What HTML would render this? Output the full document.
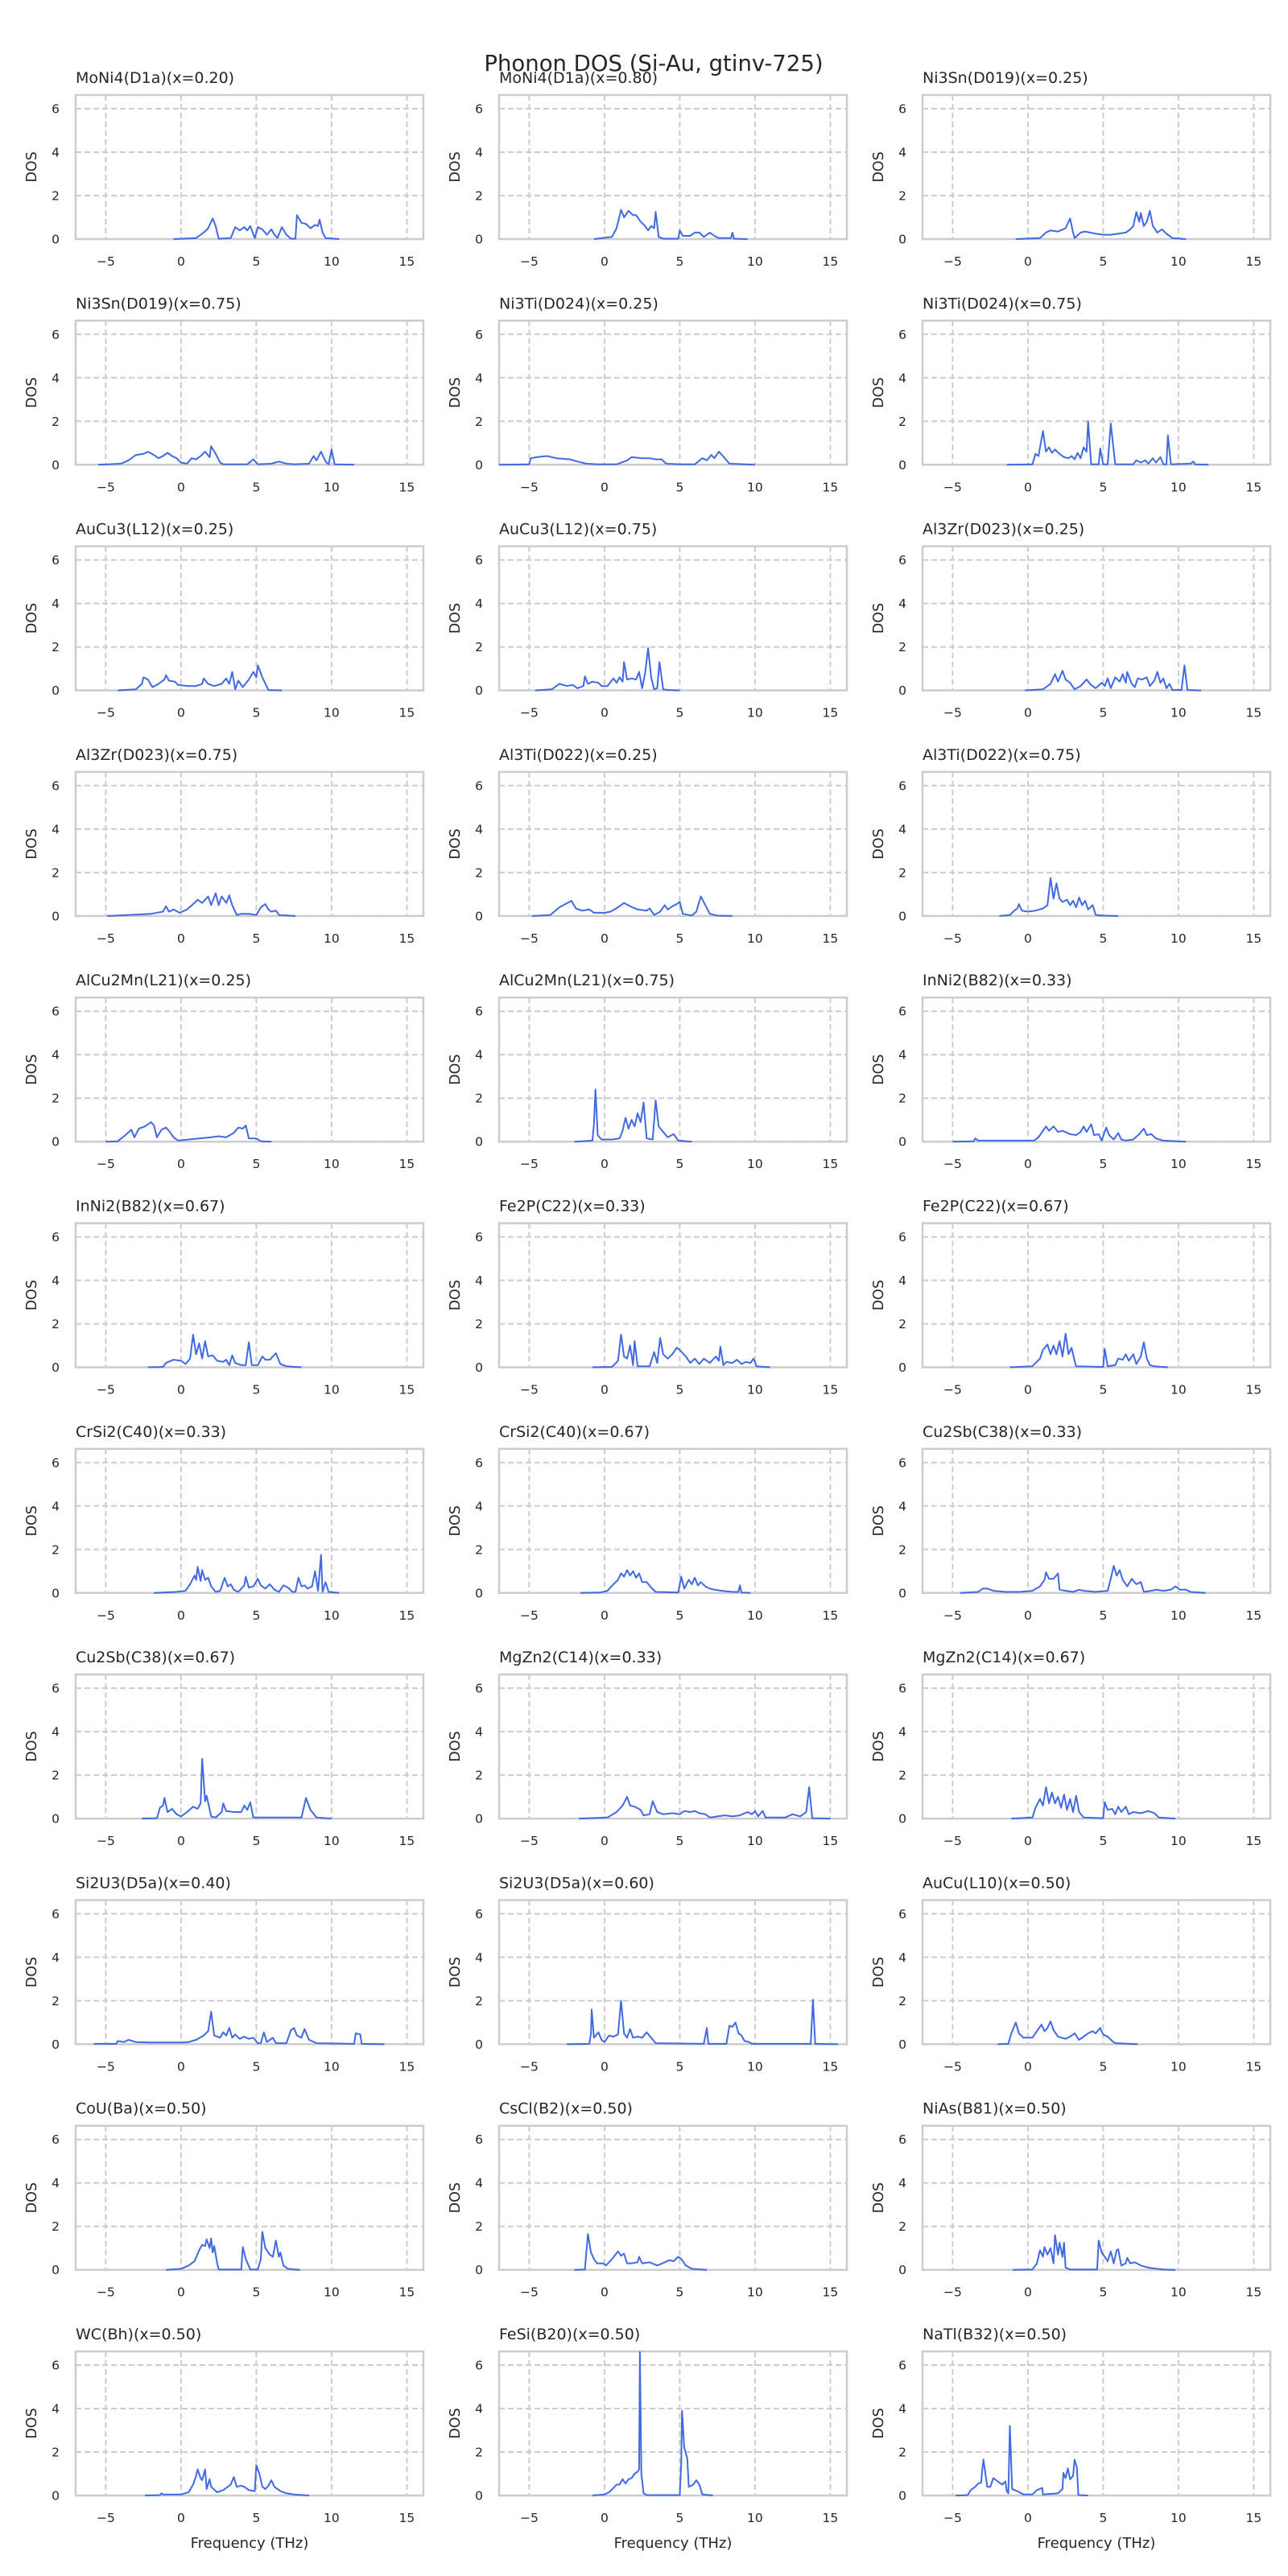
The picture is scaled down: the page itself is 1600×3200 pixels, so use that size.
<!DOCTYPE html>
<html><head><meta charset="utf-8"><style>
html,body{margin:0;padding:0;background:#fff;}
svg{display:block;}
text{font-family:"DejaVu Sans","Liberation Sans",sans-serif;fill:#262626;}
</style></head><body>
<svg id="fig" width="1600" height="3200" viewBox="0 0 1600 3200" xmlns="http://www.w3.org/2000/svg">
<rect width="1600" height="3200" fill="#fff"/>
<text x="812" y="88" text-anchor="middle" font-size="27.5">Phonon DOS (Si-Au, gtinv-725)</text>
</svg>
<script>
const titles=["MoNi4(D1a)(x=0.20)","MoNi4(D1a)(x=0.80)","Ni3Sn(D019)(x=0.25)","Ni3Sn(D019)(x=0.75)","Ni3Ti(D024)(x=0.25)","Ni3Ti(D024)(x=0.75)","AuCu3(L12)(x=0.25)","AuCu3(L12)(x=0.75)","Al3Zr(D023)(x=0.25)","Al3Zr(D023)(x=0.75)","Al3Ti(D022)(x=0.25)","Al3Ti(D022)(x=0.75)","AlCu2Mn(L21)(x=0.25)","AlCu2Mn(L21)(x=0.75)","InNi2(B82)(x=0.33)","InNi2(B82)(x=0.67)","Fe2P(C22)(x=0.33)","Fe2P(C22)(x=0.67)","CrSi2(C40)(x=0.33)","CrSi2(C40)(x=0.67)","Cu2Sb(C38)(x=0.33)","Cu2Sb(C38)(x=0.67)","MgZn2(C14)(x=0.33)","MgZn2(C14)(x=0.67)","Si2U3(D5a)(x=0.40)","Si2U3(D5a)(x=0.60)","AuCu(L10)(x=0.50)","CoU(Ba)(x=0.50)","CsCl(B2)(x=0.50)","NiAs(B81)(x=0.50)","WC(Bh)(x=0.50)","FeSi(B20)(x=0.50)","NaTl(B32)(x=0.50)"];
const xTicks=[-5,0,5,10,15];
const yTicks=[0,2,4,6];
const xDomain=[-7,16.1];
const yDomain=[0,6.63];

const f01=[-0.5,1.0,1.5,1.8,2.1,2.3,2.5,3.3,3.6,3.9,4.2,4.4,4.6,4.9,5.1,5.4,5.7,6.0,6.2,6.4,6.7,7.0,7.3,7.6,7.7,8.0,8.3,8.6,8.9,9.1,9.2,9.4,9.6,10.5];
const d01=[0,0.05,0.3,0.5,0.95,0.6,0.02,0.05,0.55,0.4,0.55,0.4,0.6,0.05,0.55,0.45,0.2,0.45,0.2,0.05,0.55,0.2,0.02,0.02,1.1,0.75,0.7,0.5,0.65,0.6,0.9,0.3,0.05,0];
const f02=[-0.7,0.5,0.8,1.1,1.3,1.6,1.9,2.1,2.4,2.7,2.9,3.1,3.3,3.4,3.6,3.9,4.9,5.0,5.2,5.7,6.0,6.3,6.6,7.0,7.3,7.6,8.4,8.5,8.6,9.5];
const d02=[0,0.1,0.5,1.35,1.0,1.3,1.1,1.1,0.8,0.6,0.4,0.6,0.5,1.25,0.1,0.02,0.02,0.4,0.15,0.15,0.3,0.3,0.1,0.3,0.15,0.05,0.05,0.3,0.02,0];
const f03=[-0.8,0.8,1.2,1.5,2.0,2.5,2.8,3.0,3.1,3.5,3.8,4.5,5.0,5.5,6.0,6.5,6.8,7.0,7.2,7.4,7.5,7.7,7.9,8.1,8.3,8.6,8.9,9.2,9.6,10.5];
const d03=[0,0.05,0.3,0.4,0.35,0.5,0.95,0.3,0.05,0.3,0.35,0.25,0.2,0.2,0.25,0.3,0.45,0.6,1.25,0.8,1.2,0.6,0.8,1.3,0.6,0.3,0.45,0.25,0.05,0];
const f04=[-5.5,-4.0,-3.5,-3.0,-2.5,-2.2,-1.8,-1.5,-1.2,-0.9,-0.6,-0.3,0,0.4,0.7,1.0,1.3,1.6,1.9,2.0,2.3,2.6,2.8,4.4,4.8,5.1,6.0,6.5,7.0,7.5,8.5,8.8,9.0,9.3,9.6,9.8,10.0,10.2,11.5];
const d04=[0,0.05,0.2,0.45,0.5,0.6,0.45,0.3,0.4,0.55,0.4,0.3,0.1,0.05,0.3,0.25,0.4,0.6,0.35,0.85,0.5,0.1,0.02,0.02,0.25,0.02,0.05,0.15,0.05,0.02,0.05,0.4,0.2,0.6,0.15,0.02,0.7,0.02,0];
const f05=[-7,-5.0,-4.9,-4.5,-3.8,-3.2,-2.3,-1.8,-1.2,-0.5,0.8,1.5,1.8,2.5,3.0,3.4,3.8,4.1,5.0,6.0,6.5,6.8,7.1,7.3,7.6,8.0,8.3,10.0];
const d05=[0,0.02,0.3,0.35,0.4,0.3,0.25,0.15,0.05,0.02,0.02,0.2,0.35,0.3,0.3,0.25,0.25,0.05,0.02,0.02,0.3,0.2,0.45,0.3,0.6,0.3,0.05,0];
const f06=[-1.4,0.3,0.5,0.7,1.0,1.2,1.4,1.6,1.8,2.1,2.4,2.7,2.9,3.1,3.3,3.5,3.7,3.9,4.0,4.2,4.7,4.8,5.0,5.3,5.5,5.8,7.0,7.2,7.5,7.8,8.0,8.3,8.5,8.8,9.0,9.2,9.3,9.5,10.8,11.0,11.1,12.0];
const d06=[0,0.02,0.5,0.4,1.55,0.6,0.8,0.55,0.7,0.5,0.35,0.3,0.4,0.25,0.55,0.3,0.8,0.6,2.0,0.02,0.02,0.75,0.02,0.02,1.9,0.02,0.02,0.2,0.1,0.2,0.05,0.3,0.1,0.35,0.02,0.02,1.35,0.02,0.05,0.15,0.02,0];
const f07=[-4.2,-3.0,-2.6,-2.5,-2.2,-1.9,-1.5,-1.1,-1.0,-0.8,-0.4,-0.2,0.5,1.0,1.4,1.5,1.8,2.2,2.7,3.0,3.2,3.4,3.6,3.8,4.1,4.5,4.8,5.0,5.1,5.4,5.8,6.7];
const d07=[0,0.05,0.3,0.6,0.5,0.15,0.3,0.5,0.7,0.45,0.4,0.25,0.2,0.2,0.3,0.55,0.3,0.2,0.3,0.55,0.3,0.85,0.05,0.45,0.15,0.5,0.85,0.6,1.15,0.6,0.02,0];
const f08=[-4.6,-3.5,-3.0,-2.5,-2.1,-1.8,-1.4,-1.3,-1.1,-0.8,-0.4,-0.2,0.2,0.6,0.8,1.0,1.2,1.3,1.5,1.8,2.1,2.3,2.5,2.7,2.9,3.1,3.3,3.5,3.65,3.9,4.2,5.0];
const d08=[0,0.05,0.3,0.2,0.25,0.1,0.2,0.65,0.3,0.4,0.35,0.2,0.2,0.55,0.35,0.6,0.4,1.3,0.5,0.55,0.5,0.85,0.1,0.8,1.95,0.6,0.05,0.1,1.3,0.05,0.02,0];
const f09=[-0.2,1.0,1.5,1.8,2.0,2.3,2.5,2.8,3.1,3.5,3.9,4.2,4.5,4.9,5.1,5.3,5.5,5.8,6.1,6.3,6.5,6.6,6.9,7.1,7.3,7.6,7.9,8.1,8.4,8.6,8.8,9.0,9.2,9.4,9.6,10.2,10.4,10.6,11.5];
const d09=[0,0.05,0.3,0.75,0.4,0.9,0.5,0.35,0.05,0.2,0.5,0.25,0.1,0.35,0.2,0.55,0.1,0.6,0.4,0.75,0.35,0.85,0.3,0.15,0.55,0.5,0.6,0.2,0.45,0.85,0.35,0.55,0.1,0.3,0.02,0.02,1.15,0.02,0];
const f10=[-4.9,-3.5,-2.0,-1.2,-1.0,-0.8,-0.5,-0.1,0.4,0.8,1.1,1.4,1.8,2.0,2.3,2.5,2.7,3.0,3.2,3.4,3.7,4.0,4.5,5.0,5.3,5.6,5.8,6.0,6.3,6.5,7.6];
const d10=[0,0.05,0.1,0.2,0.45,0.2,0.3,0.15,0.3,0.55,0.75,0.6,0.9,0.5,1.05,0.5,0.9,0.6,0.95,0.5,0.05,0.1,0.1,0.05,0.4,0.55,0.3,0.2,0.25,0.05,0];
const f11=[-4.8,-3.6,-3.0,-2.2,-1.9,-1.5,-1.0,-0.7,0,0.4,0.9,1.3,1.7,2.2,2.8,3.0,3.3,3.7,4.0,4.2,4.5,4.8,5.0,5.2,5.8,6.1,6.4,6.7,7.0,7.5,8.5];
const d11=[0,0.05,0.4,0.7,0.35,0.25,0.3,0.15,0.15,0.2,0.4,0.6,0.45,0.3,0.25,0.35,0.05,0.2,0.5,0.3,0.45,0.55,0.65,0.1,0.02,0.2,0.9,0.5,0.1,0.02,0];
const f12=[-1.9,-1.2,-0.9,-0.7,-0.6,-0.4,0,0.5,1.0,1.3,1.5,1.7,1.9,2.1,2.3,2.6,2.8,3.0,3.2,3.4,3.6,3.8,4.0,4.3,4.5,5.0,6.0];
const d12=[0,0.05,0.25,0.35,0.55,0.25,0.2,0.25,0.35,0.5,1.75,0.8,1.5,0.8,0.65,0.75,0.5,0.7,0.4,0.85,0.5,0.7,0.3,0.5,0.05,0.02,0];
const f13=[-5,-4.2,-3.7,-3.3,-3.1,-2.8,-2.4,-2.0,-1.8,-1.6,-1.3,-1.0,-0.8,-0.5,-0.2,0.5,1.2,2.0,2.5,3.0,3.5,3.8,4.1,4.3,4.5,5.0,5.3,6.0];
const d13=[0,0.02,0.3,0.55,0.2,0.6,0.7,0.9,0.75,0.2,0.55,0.65,0.5,0.2,0.05,0.1,0.15,0.2,0.25,0.2,0.4,0.65,0.6,0.75,0.15,0.15,0.02,0];
const f14=[-2,-0.8,-0.7,-0.6,-0.45,-0.2,0.5,1.0,1.2,1.4,1.6,1.8,2.0,2.2,2.4,2.6,2.8,3.2,3.4,3.6,3.9,4.2,4.6,4.9,5.8];
const d14=[0,0.05,0.8,2.4,0.3,0.1,0.1,0.15,0.5,1.1,0.6,1.0,0.7,1.3,0.9,1.8,0.15,0.1,1.9,0.7,0.45,0.2,0.35,0.05,0];
const f15=[-5,-3.6,-3.5,-3.3,-1.0,0.4,0.7,1.0,1.2,1.4,1.7,2.0,2.3,2.8,3.2,3.5,3.7,3.9,4.2,4.4,4.7,4.9,5.2,5.4,5.7,6.0,6.2,6.5,7.0,7.4,7.7,7.9,8.2,8.5,9.0,10.5];
const d15=[0,0.02,0.15,0.05,0.05,0.05,0.2,0.5,0.7,0.5,0.7,0.45,0.5,0.35,0.3,0.45,0.7,0.45,0.8,0.3,0.35,0.05,0.65,0.3,0.1,0.4,0.1,0.05,0.1,0.35,0.6,0.3,0.35,0.15,0.05,0];
const f16=[-2.2,-1.2,-1.0,-0.5,0,0.3,0.6,0.8,1.0,1.2,1.4,1.6,1.8,2.1,2.4,2.8,3.0,3.2,3.4,3.6,4.0,4.3,4.5,4.7,5.1,5.4,5.6,5.9,6.3,6.6,7.0,8.0];
const d16=[0,0.02,0.2,0.35,0.3,0.15,0.4,1.5,0.6,1.1,0.4,1.2,0.5,0.55,0.3,0.25,0.35,0.1,0.55,0.2,0.1,0.1,1.15,0.1,0.1,0.5,0.35,0.35,0.65,0.15,0.05,0];
const f17=[-0.8,0.5,0.9,1.1,1.3,1.5,1.7,1.9,2.0,2.2,3.0,3.3,3.5,3.7,3.9,4.2,4.5,4.8,5.0,5.4,5.7,6.0,6.3,6.6,7.0,7.4,7.6,7.7,7.9,8.1,8.5,8.8,9.1,9.4,9.7,9.9,10.1,11.0];
const d17=[0,0.02,0.3,1.5,0.5,0.4,1.0,0.1,1.2,0.05,0.05,0.7,0.2,1.35,0.6,0.4,0.6,0.9,0.8,0.5,0.2,0.4,0.15,0.4,0.2,0.5,0.3,0.95,0.1,0.25,0.2,0.35,0.15,0.25,0.2,0.4,0.05,0];
const f18=[-1.2,0.3,0.8,1.0,1.3,1.5,1.7,1.9,2.1,2.3,2.5,2.7,2.9,3.1,3.2,5.0,5.1,5.3,5.8,6.0,6.3,6.5,6.7,7.0,7.2,7.5,7.7,7.9,8.1,8.4,9.3];
const d18=[0,0.05,0.4,0.8,1.05,0.6,1.0,0.6,1.2,0.5,1.55,0.6,0.9,0.3,0.05,0.02,0.85,0.05,0.1,0.4,0.35,0.6,0.3,0.6,0.15,0.5,1.15,0.4,0.1,0.05,0];
const f19=[-1.8,-0.3,0.3,0.6,0.9,1.0,1.1,1.3,1.4,1.6,1.8,2.0,2.3,2.6,2.9,3.1,3.3,3.5,3.8,4.2,4.3,4.5,4.8,5.1,5.3,5.6,5.9,6.2,6.5,6.8,7.1,7.4,7.6,7.8,8.0,8.2,8.4,8.7,8.9,9.1,9.3,9.4,9.6,9.8,10.5];
const d19=[0,0.05,0.1,0.4,0.8,0.6,1.2,0.55,1.05,0.6,0.7,0.3,0.05,0.1,0.7,0.3,0.4,0.15,0.05,0.35,0.75,0.25,0.3,0.65,0.35,0.2,0.4,0.15,0.05,0.35,0.25,0.05,0.05,0.7,0.3,0.35,0.2,0.3,1.0,0.1,1.75,0.05,0.5,0.05,0];
const f20=[-1.6,-0.3,0.2,0.6,0.9,1.1,1.3,1.5,1.7,1.9,2.1,2.3,2.5,2.8,3.1,3.4,4.9,5.1,5.3,5.6,5.8,6.0,6.2,6.4,6.7,7.0,7.3,7.8,8.5,8.9,9.0,9.1,9.7];
const d20=[0,0.02,0.1,0.4,0.6,0.9,0.75,1.05,0.8,1.0,0.7,0.9,0.5,0.5,0.25,0.05,0.02,0.75,0.2,0.6,0.4,0.7,0.35,0.5,0.3,0.2,0.15,0.1,0.05,0.05,0.35,0.02,0];
const f21=[-4.5,-3.3,-3.0,-2.7,-2.3,-1.5,-0.5,0.3,0.8,1.1,1.2,1.4,1.7,2.0,2.1,2.5,3.0,3.4,3.7,4.5,5.3,5.5,5.7,5.9,6.1,6.3,6.6,6.9,7.2,7.5,7.7,8.2,8.5,9.0,9.5,9.8,10.1,10.5,10.8,11.8];
const d21=[0,0.05,0.2,0.2,0.1,0.05,0.05,0.1,0.3,0.6,0.95,0.65,0.65,0.9,0.15,0.1,0.05,0.15,0.1,0.05,0.1,0.65,1.25,0.8,1.05,0.6,0.3,0.65,0.4,0.5,0.05,0.1,0.15,0.1,0.15,0.3,0.15,0.15,0.05,0];
const f22=[-2.6,-1.6,-1.4,-1.2,-1.1,-0.9,-0.6,-0.3,0,0.4,0.8,1.1,1.3,1.4,1.6,1.7,2.0,2.3,2.7,2.8,3.0,3.5,4.0,4.2,4.4,4.6,4.8,8.0,8.3,8.6,9.0,10.0];
const d22=[0,0.02,0.5,0.6,0.95,0.3,0.45,0.2,0.1,0.3,0.55,0.45,0.7,2.75,0.8,1.05,0.1,0.05,0.3,0.7,0.35,0.3,0.3,0.6,0.4,0.75,0.05,0.05,0.95,0.4,0.05,0];
const f23=[-1.7,0.2,0.8,1.2,1.5,1.7,2.0,2.4,2.6,3.0,3.2,3.5,3.9,4.5,5.0,5.3,5.7,6.0,6.3,6.7,7.0,7.5,8.0,8.5,9.0,9.5,9.8,10.0,10.2,10.5,10.7,12.0,12.5,13.0,13.4,13.6,13.8,15.0];
const d23=[0,0.05,0.3,0.6,1.0,0.6,0.55,0.4,0.15,0.2,0.8,0.3,0.2,0.25,0.2,0.35,0.3,0.35,0.25,0.2,0.05,0.1,0.15,0.1,0.15,0.3,0.2,0.35,0.1,0.35,0.05,0.05,0.2,0.1,0.3,1.45,0.02,0];
const f24=[-1.1,0.3,0.5,0.8,1.0,1.2,1.4,1.6,1.8,2.0,2.2,2.4,2.6,2.8,3.0,3.2,3.4,3.7,5.0,5.1,5.3,5.6,5.8,6.0,6.2,6.5,6.7,7.0,7.5,8.0,8.4,8.7,9.8];
const d24=[0,0.05,0.5,0.9,0.6,1.45,0.7,1.2,0.7,1.0,0.5,1.1,0.4,0.9,0.3,1.05,0.3,0.05,0.02,0.75,0.4,0.45,0.2,0.55,0.3,0.55,0.2,0.3,0.25,0.35,0.25,0.05,0];
const f25=[-5.8,-4.3,-4.2,-3.8,-3.5,-3.0,-2.0,0,0.5,1.0,1.5,1.8,2.0,2.2,2.6,2.8,3.0,3.2,3.4,3.6,3.9,4.2,4.5,4.8,5.1,5.3,5.5,5.7,6.1,6.3,7.0,7.3,7.5,7.7,8.0,8.2,8.5,9.0,11.5,11.6,11.9,12.0,13.5];
const d25=[0.02,0.02,0.15,0.1,0.2,0.1,0.08,0.08,0.1,0.2,0.4,0.6,1.5,0.4,0.3,0.55,0.4,0.75,0.3,0.45,0.25,0.35,0.25,0.3,0.05,0.05,0.55,0.1,0.3,0.05,0.05,0.65,0.75,0.4,0.3,0.7,0.2,0.05,0.02,0.5,0.45,0.02,0];
const f26=[-2.5,-1.0,-0.9,-0.85,-0.7,-0.4,-0.2,0,0.3,0.6,0.9,1.1,1.3,1.5,1.7,1.9,2.2,2.5,2.8,3.1,3.4,6.6,6.8,6.9,8.1,8.3,8.5,8.7,8.9,9.1,9.3,9.6,9.8,13.7,13.85,14.0,15.5];
const d26=[0,0.02,0.5,1.6,0.3,0.55,0.2,0.1,0.4,0.35,0.45,2.0,0.5,0.3,0.7,0.3,0.35,0.3,0.55,0.3,0.05,0.02,0.75,0.02,0.02,0.85,0.8,1.0,0.5,0.4,0.15,0.1,0.02,0.02,2.05,0.02,0];
const f27=[-2.0,-1.3,-1.1,-0.8,-0.6,-0.3,0.3,0.6,0.9,1.1,1.3,1.5,1.7,2.0,2.5,2.8,3.1,3.4,3.7,4.0,4.3,4.5,4.8,5.0,5.3,5.6,5.8,7.3];
const d27=[0,0.02,0.5,1.0,0.5,0.3,0.3,0.6,0.9,0.6,0.75,1.05,0.65,0.35,0.25,0.35,0.5,0.2,0.35,0.5,0.6,0.5,0.75,0.45,0.35,0.15,0.05,0];
const f28=[-1.0,0,0.5,0.9,1.2,1.4,1.6,1.7,1.9,2.0,2.1,2.2,2.4,2.5,4.0,4.1,4.3,4.6,5.1,5.3,5.4,5.6,5.9,6.1,6.3,6.5,6.6,6.8,7.1,7.9];
const d28=[0,0.05,0.2,0.4,0.9,1.15,1.1,1.4,1.0,1.45,0.8,1.1,0.3,0.02,0.02,1.05,0.5,0.02,0.02,0.5,1.75,1.0,0.7,0.6,1.35,0.6,0.8,0.2,0.05,0];
const f29=[-2.0,-1.3,-1.1,-0.9,-0.7,-0.5,-0.1,0.1,0.5,0.9,1.1,1.3,1.5,1.8,2.2,2.3,2.5,3.0,3.5,4.0,4.3,4.6,4.9,5.1,5.4,5.8,6.8];
const d29=[0,0.02,1.65,0.8,0.5,0.3,0.3,0.2,0.5,0.85,0.65,0.75,0.3,0.3,0.35,0.6,0.3,0.35,0.2,0.35,0.45,0.4,0.6,0.5,0.2,0.05,0];
const f30=[-1.0,0.3,0.6,0.8,1.0,1.1,1.3,1.5,1.7,1.8,2.0,2.1,2.3,2.4,2.5,2.8,4.6,4.7,4.9,5.1,5.3,5.5,5.7,5.9,6.0,6.2,6.5,6.6,6.8,7.1,7.5,8.0,9.0,9.8];
const d30=[0,0.02,0.3,0.9,0.6,1.05,0.7,1.0,0.3,1.6,0.7,1.25,0.6,1.25,0.1,0.02,0.02,1.35,0.8,0.6,0.4,0.85,0.3,0.9,0.95,0.2,0.3,0.55,0.3,0.35,0.2,0.1,0.02,0];
const f31=[-2.4,-1.4,-1.3,-1.2,0,0.5,0.8,1.0,1.1,1.3,1.4,1.6,1.7,1.9,2.0,2.4,2.8,3.1,3.3,3.5,3.7,4.0,4.2,4.5,4.9,5.0,5.2,5.4,5.6,5.8,6.0,6.2,6.6,7.0,7.5,8.5];
const d31=[0,0.02,0.1,0.05,0.05,0.15,0.5,0.9,1.2,0.8,0.7,1.2,0.3,0.75,0.4,0.15,0.25,0.4,0.5,0.85,0.4,0.45,0.4,0.25,0.2,1.4,1.0,0.4,0.3,0.45,0.7,0.4,0.2,0.1,0.05,0];
const f32=[-0.8,0,0.3,0.6,0.8,1.0,1.2,1.4,1.6,1.8,2.0,2.2,2.3,2.35,2.45,2.6,2.8,5.0,5.1,5.15,5.3,5.5,5.6,5.9,6.1,6.3,6.5,7.2];
const d32=[0,0.05,0.15,0.35,0.5,0.5,0.75,0.55,0.75,0.8,1.0,1.1,1.2,6.6,1.0,0.1,0.02,0.02,1.5,3.9,2.2,1.7,0.4,0.5,0.7,0.5,0.05,0];
const f33=[-4.8,-4.0,-3.8,-3.5,-3.3,-3.1,-3.05,-2.95,-2.8,-2.7,-2.5,-2.3,-2.0,-1.7,-1.5,-1.4,-1.3,-1.2,-1.05,-0.7,-0.3,0.3,0.6,0.95,1.0,2.0,2.3,2.35,2.5,2.65,2.8,3.0,3.1,3.25,3.35,4.0];
const d33=[0,0.02,0.25,0.4,0.55,0.6,1.1,1.65,0.9,0.4,0.4,0.8,0.65,0.5,0.65,0.2,0.1,3.2,0.3,0.2,0.05,0.05,0.25,0.35,0.05,0.1,0.3,1.05,0.8,1.25,0.75,0.9,1.65,1.3,0.02,0];

const seriesF=[f01,f02,f03,f04,f05,f06,f07,f08,f09,f10,f11,f12,f13,f14,f15,f16,f17,f18,f19,f20,f21,f22,f23,f24,f25,f26,f27,f28,f29,f30,f31,f32,f33];
const seriesD=[d01,d02,d03,d04,d05,d06,d07,d08,d09,d10,d11,d12,d13,d14,d15,d16,d17,d18,d19,d20,d21,d22,d23,d24,d25,d26,d27,d28,d29,d30,d31,d32,d33];

const NS='http://www.w3.org/2000/svg';
const svg=document.getElementById('fig');
const colLeft=[94,620,1146], plotW=432, plotH=179, rowTop0=118, rowPitch=280.3;
function mk(tag,attrs,parent){const e=document.createElementNS(NS,tag);for(const k in attrs)e.setAttribute(k,attrs[k]);(parent||svg).appendChild(e);return e;}
titles.forEach((t,i)=>{
  const c=i%3,r=Math.floor(i/3);
  const L=colLeft[c],T=rowTop0+r*rowPitch,B=T+plotH,R=L+plotW;
  const sx=v=>L+(v-xDomain[0])/(xDomain[1]-xDomain[0])*plotW;
  const sy=v=>B-(v-yDomain[0])/(yDomain[1]-yDomain[0])*plotH;
  const g=mk('g',{});
  
  
  xTicks.forEach(v=>{
    const ln=mk('line',{x1:sx(v),x2:sx(v),y1:T,y2:B,stroke:'#cccccc','stroke-width':2,'stroke-dasharray':'7,4'},g);
    
    
    const tx=mk('text',{x:sx(v),y:B+33,'text-anchor':'middle','font-size':15.5},g);
    tx.textContent=v<0?'\u2212'+Math.abs(v):String(v);
    
    
  });
  yTicks.forEach(v=>{
    const ln=mk('line',{x1:L,x2:R,y1:sy(v),y2:sy(v),stroke:'#cccccc','stroke-width':2,'stroke-dasharray':'7,4'},g);
    
    
    const tx=mk('text',{x:L-20,y:sy(v)+5.5,'text-anchor':'end','font-size':15.5},g);
    tx.textContent=String(v);
    
    
  });
  const fr=mk('rect',{x:L,y:T,width:plotW,height:plotH,fill:'none',stroke:'#cccccc','stroke-width':2.5},g);
  
  
  const F=seriesF[i],D=seriesD[i];
  const pts=F.map((f,k)=>sx(f).toFixed(1)+','+sy(D[k]).toFixed(1)).join(' ');
  const pl=mk('polyline',{points:pts,fill:'none',stroke:'#4169e1','stroke-width':2,'stroke-linejoin':'round'},g);
  
  
  const tt=mk('text',{x:L,y:T-15,'font-size':19},g);
  tt.textContent=t;
  
  
  const yl=mk('text',{x:0,y:0,'text-anchor':'middle','font-size':17.5,transform:'translate('+(L-49)+','+(T+plotH/2)+') rotate(-90)'},g);
  yl.textContent='DOS';
  
  
  if(r===10){
    const xl=mk('text',{x:L+plotW/2,y:B+65,'text-anchor':'middle','font-size':18},g);
    xl.textContent='Frequency (THz)';
    
    
  }
});
</script>
</body></html>
